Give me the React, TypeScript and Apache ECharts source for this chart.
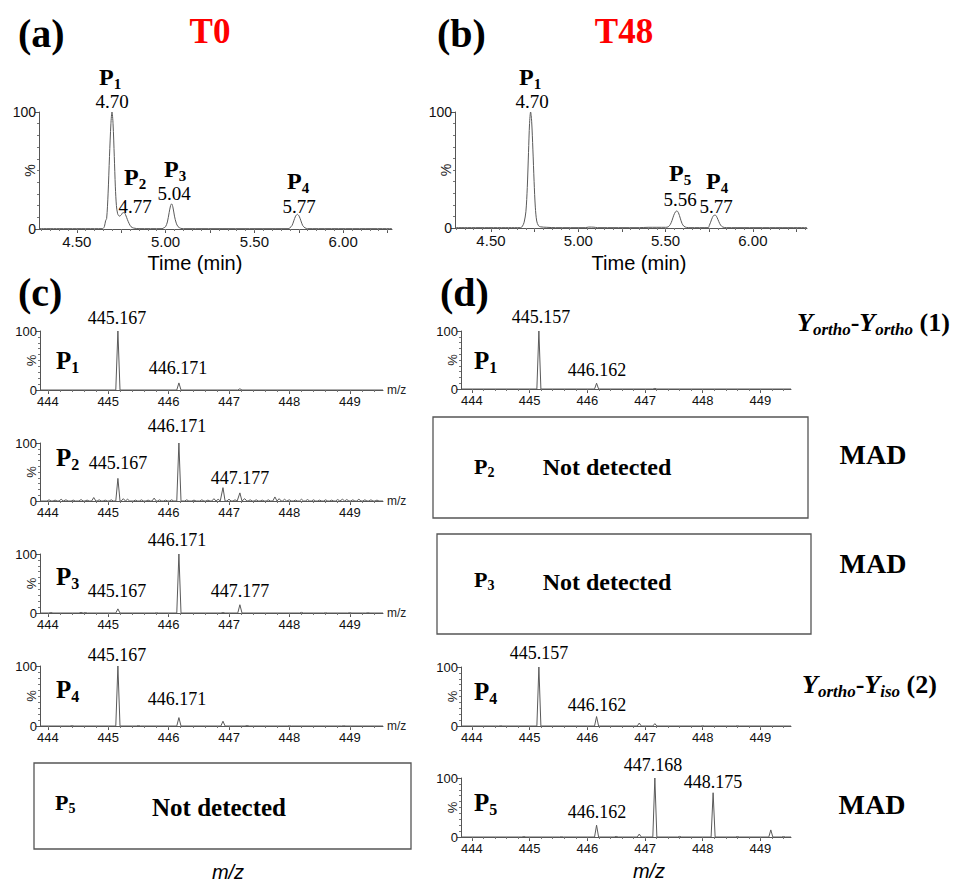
import React, { useEffect, useRef } from "react";
import * as echarts from "echarts";

const SERIF = "'Liberation Serif', 'Times New Roman', serif";
const SANS = "'Liberation Sans', Arial, sans-serif";

// ---- tick labels ----
const timeLabels = [4.5, 5.0, 5.5, 6.0];
const timeMajorTicks = [4.5, 4.75, 5.0, 5.25, 5.5, 5.75, 6.0, 6.25];
const mzLabels = [444, 445, 446, 447, 448, 449];

// ---- chromatograms [time (min), relative intensity %] ----
const traceT0: [number, number][] = [
  [4.287, 0.3], [4.4, 0.3], [4.5, 0.3], [4.6, 0.3], [4.645, 0.3], [4.655, 2], [4.662, 7], [4.668, 9],
  [4.676, 30], [4.684, 62], [4.692, 90], [4.698, 100], [4.704, 90], [4.711, 62], [4.717, 36], [4.723, 20],
  [4.73, 13], [4.74, 11], [4.75, 12], [4.76, 14], [4.767, 14], [4.775, 12], [4.785, 8], [4.795, 4.5],
  [4.805, 2], [4.82, 0.8], [4.85, 0.3], [4.98, 0.3], [4.99, 1], [5.0, 2], [5.01, 6], [5.02, 14],
  [5.028, 20], [5.034, 21.5], [5.042, 18], [5.05, 11], [5.06, 5], [5.07, 2], [5.085, 0.6], [5.1, 0.3],
  [5.69, 0.3], [5.7, 1], [5.712, 3], [5.722, 7], [5.732, 11], [5.742, 12.5], [5.752, 11], [5.762, 7],
  [5.772, 3], [5.785, 1], [5.8, 0.3], [6.275, 0.3],
];
const traceT48: [number, number][] = [
  [4.294, 0.3], [4.6, 0.3], [4.67, 0.3], [4.68, 1.5], [4.69, 5], [4.7, 14], [4.708, 35], [4.715, 65],
  [4.721, 90], [4.727, 100], [4.733, 92], [4.74, 68], [4.747, 40], [4.754, 18], [4.762, 6], [4.772, 2],
  [4.785, 1], [4.82, 0.6], [4.87, 0.3], [5.04, 0.3], [5.06, 0.8], [5.09, 0.7], [5.11, 0.3], [5.35, 0.3],
  [5.4, 0.6], [5.5, 0.6], [5.515, 1], [5.527, 3], [5.537, 6.5], [5.547, 11], [5.557, 14], [5.565, 14.7],
  [5.574, 13], [5.584, 8.5], [5.594, 4], [5.605, 1.5], [5.62, 0.5], [5.64, 0.3], [5.745, 0.3], [5.75, 2],
  [5.758, 5], [5.768, 9], [5.778, 11], [5.786, 11], [5.795, 9], [5.805, 5.5], [5.815, 2.5], [5.828, 0.8],
  [5.85, 0.3], [6.31, 0.3],
];

// ---- mass spectra peaks [m/z, relative intensity %] ----
const specT0P1: [number, number][] = [[445.16, 100], [446.17, 12], [447.18, 2]];
const specT0P2: [number, number][] = [
  [444.02, 2], [444.12, 1.5], [444.22, 3], [444.3, 2], [444.42, 1.5], [444.55, 2.5], [444.65, 1.5], [444.76, 6],
  [444.85, 2], [444.95, 1.5], [445.05, 2], [445.16, 39], [445.25, 4], [445.32, 3], [445.45, 1.5], [445.55, 2],
  [445.66, 1.5], [445.76, 5], [445.85, 2], [445.95, 1.5], [446.05, 2], [446.17, 100], [446.3, 2], [446.42, 1.5],
  [446.55, 2], [446.65, 1.5], [446.75, 4], [446.82, 3], [446.9, 23], [447.0, 3], [447.1, 2], [447.18, 14],
  [447.26, 4], [447.35, 2], [447.45, 2], [447.55, 1.5], [447.65, 2], [447.76, 7], [447.83, 4], [447.92, 3],
  [448.0, 2], [448.1, 1.5], [448.2, 3], [448.3, 2.5], [448.4, 2], [448.5, 1.5], [448.6, 2], [448.7, 1.5],
  [448.8, 2.5], [448.88, 3], [448.95, 2.5], [449.05, 2], [449.15, 3], [449.25, 2], [449.35, 2], [449.45, 1.5],
];
const specT0P3: [number, number][] = [
  [444.05, 0.8], [444.55, 1], [444.62, 0.8], [445.16, 7], [445.8, 0.5], [446.17, 100], [446.9, 0.8],
  [447.18, 14], [448.2, 1], [448.6, 0.5], [449.0, 0.6], [449.3, 0.5],
];
const specT0P4: [number, number][] = [
  [444.4, 0.5], [445.16, 100], [445.5, 0.8], [446.17, 14], [446.9, 8], [447.3, 0.8], [448.0, 0.5], [448.9, 0.5],
];
const specT48P1: [number, number][] = [[445.16, 100], [446.16, 10], [447.17, 1]];
const specT48P4: [number, number][] = [
  [444.5, 0.5], [445.16, 100], [446.16, 16], [446.9, 5], [447.17, 4], [448.0, 0.5], [448.6, 0.5],
];
const specT48P5: [number, number][] = [
  [444.9, 0.8], [445.55, 0.5], [446.16, 20], [446.5, 1], [446.9, 5], [447.17, 100], [447.6, 1],
  [448.18, 75], [448.6, 0.8], [449.18, 12], [449.4, 0.8],
];

// ---- layout ----
type G = { left: number; top: number; width: number; height: number; kind: "t" | "c" | "d" };
const grids: G[] = [
  { left: 39, top: 112, width: 353, height: 117, kind: "t" },
  { left: 455, top: 112, width: 352, height: 116, kind: "t" },
  { left: 40, top: 331, width: 343, height: 59, kind: "c" },
  { left: 40, top: 443, width: 343, height: 58, kind: "c" },
  { left: 40, top: 554, width: 343, height: 59, kind: "c" },
  { left: 40, top: 666, width: 343, height: 60, kind: "c" },
  { left: 461, top: 331, width: 330, height: 58, kind: "d" },
  { left: 461, top: 667, width: 330, height: 59, kind: "d" },
  { left: 461, top: 778, width: 330, height: 59, kind: "d" },
];
const xRanges: [number, number][] = [
  [4.287, 6.275], [4.294, 6.31],
  [443.87, 449.55], [443.87, 449.55], [443.87, 449.55], [443.87, 449.55],
  [443.81, 449.53], [443.81, 449.53], [443.81, 449.53],
];

function stickLine(peaks: [number, number][], lo: number, hi: number): [number, number][] {
  const hw = 0.035;
  const pts: [number, number][] = [[lo, 0]];
  peaks.slice().sort((a, b) => a[0] - b[0]).forEach(([m, h]) => {
    pts.push([m - hw, 0], [m, h], [m + hw, 0]);
  });
  pts.push([hi, 0]);
  return pts;
}

function steps(lo: number, hi: number, step: number): number[] {
  const out: number[] = [];
  const start = Math.ceil(lo / step - 1e-9);
  for (let k = start; k * step <= hi + 1e-9; k++) out.push(Math.round(k * step * 1000) / 1000);
  return out;
}

function pLabel(x: number, y: number, sub: string, size: number, subSize: number, lh: number, subLh: number) {
  return {
    type: "text", x, y, silent: true,
    style: {
      text: `{p|P}{s|${sub}}`,
      align: "left", verticalAlign: "middle", textAlign: "left", textVerticalAlign: "middle",
      rich: {
        p: { fontSize: size, fontWeight: "bold", fontFamily: SERIF, fill: "#000", color: "#000", lineHeight: lh },
        s: { fontSize: subSize, fontWeight: "bold", fontFamily: SERIF, fill: "#000", color: "#000", lineHeight: subLh, verticalAlign: "bottom" },
      },
    },
  };
}

function txt(x: number, y: number, text: string, size: number, opts: any = {}) {
  const align = opts.align || "center";
  return {
    type: "text", x, y, silent: true, rotation: opts.rotation || 0,
    style: {
      text, fontSize: size, fontFamily: opts.family || SERIF, fontWeight: opts.weight || "normal",
      fontStyle: opts.style || "normal", fill: opts.fill || "#000",
      align, verticalAlign: "middle", textAlign: align, textVerticalAlign: "middle",
    },
  };
}

function box(x: number, y: number, w: number, h: number) {
  return {
    type: "rect", silent: true, shape: { x, y, width: w, height: h },
    style: { fill: "none", stroke: "#555", lineWidth: 1.3 },
  };
}

function yRich(x: number, y: number, s1: string, s2: string, tail: string) {
  const base = { fontSize: 26, fontWeight: "bold", fontFamily: SERIF, fill: "#000", color: "#000", lineHeight: 32 };
  return {
    type: "text", x, y, silent: true,
    style: {
      text: `{yi|Y}{si|${s1}}{h|-}{yi|Y}{si|${s2}}{n|${tail}}`,
      align: "left", verticalAlign: "middle", textAlign: "left", textVerticalAlign: "middle",
      rich: {
        yi: { ...base, fontStyle: "italic" },
        h: { ...base },
        n: { ...base },
        si: { fontSize: 17, fontWeight: "bold", fontStyle: "italic", fontFamily: SERIF, fill: "#000", color: "#000", lineHeight: 12, verticalAlign: "bottom" },
      },
    },
  };
}

export default function App() {
  const ref = useRef<HTMLDivElement>(null);
  useEffect(() => {
    document.body.style.margin = "0";
    if (!ref.current) return;
    const chart = echarts.init(ref.current, undefined, { renderer: "svg" });

    const xAxis: any[] = [];
    const yAxis: any[] = [];
    const percentLabels: any[] = [];
    grids.forEach((g, gi) => {
      const [min, max] = xRanges[gi];
      const isT = g.kind === "t";
      const fs = isT ? 15 : 13;
      const labels = isT ? timeLabels : mzLabels;
      const majors = isT ? timeMajorTicks : mzLabels;
      const minors = isT ? steps(min, max, 0.05) : steps(min, max, 0.2);
      xAxis.push({
        type: "value", gridIndex: gi, min, max, position: "bottom",
        axisLine: { show: true, onZero: false, lineStyle: { color: "#555", width: 1 } },
        axisTick: { show: true, customValues: majors, length: 4, lineStyle: { color: "#555" } },
        axisLabel: {
          show: true, customValues: labels, fontSize: fs, color: "#111", fontFamily: SANS, margin: 5,
          hideOverlap: false,
          formatter: (v: number) => (isT ? v.toFixed(2) : String(v)),
        },
        splitLine: { show: false },
        name: g.kind === "c" ? "m/z" : "", nameLocation: "end", nameGap: 4, nameMoveOverlap: false,
        nameTextStyle: { fontSize: 12, color: "#222", fontFamily: SANS },
      });
      xAxis.push({
        type: "value", gridIndex: gi, min, max, position: "bottom",
        axisLine: { show: false, onZero: false },
        axisTick: { show: true, customValues: minors, length: 2, lineStyle: { color: "#777" } },
        axisLabel: { show: false }, splitLine: { show: false },
      });
      yAxis.push({
        type: "value", gridIndex: gi, min: 0, max: 100, interval: 100,
        axisLine: { show: true, lineStyle: { color: "#555", width: 1 } },
        axisTick: { show: true, length: 4, lineStyle: { color: "#555" } },
        minorTick: { show: true, splitNumber: 10, length: 2, lineStyle: { color: "#777" } },
        axisLabel: { fontSize: isT ? 14 : 13, color: "#111", fontFamily: SANS, margin: 3 },
        splitLine: { show: false }, minorSplitLine: { show: false },
      });
      percentLabels.push(
        txt(g.left - 9, g.top + g.height / 2, "%", isT ? 14 : 13, { family: SANS, fill: "#222", rotation: Math.PI / 2 })
      );
    });

    const seriesData: [number, number][][] = [
      traceT0, traceT48,
      stickLine(specT0P1, xRanges[2][0], xRanges[2][1]),
      stickLine(specT0P2, xRanges[3][0], xRanges[3][1]),
      stickLine(specT0P3, xRanges[4][0], xRanges[4][1]),
      stickLine(specT0P4, xRanges[5][0], xRanges[5][1]),
      stickLine(specT48P1, xRanges[6][0], xRanges[6][1]),
      stickLine(specT48P4, xRanges[7][0], xRanges[7][1]),
      stickLine(specT48P5, xRanges[8][0], xRanges[8][1]),
    ];
    const series = seriesData.map((data, gi) => ({
      type: "line", xAxisIndex: gi * 2, yAxisIndex: gi, data,
      showSymbol: false, symbol: "none", silent: true, clip: true,
      smooth: gi < 2 ? 0.3 : false,
      lineStyle: { color: "#5a5a5a", width: 1 },
    }));

    const chromP = (x: number, y: number, s: string) => pLabel(x, y, s, 24, 15, 28, 11);
    const specP = (x: number, y: number, s: string) => pLabel(x, y, s, 25, 16, 30, 15);
    const boxP = (x: number, y: number, s: string) => pLabel(x, y, s, 22, 14, 26, 12);

    const graphic: any[] = [
      ...percentLabels,
      // panel headers
      txt(18, 33, "(a)", 40, { weight: "bold", align: "left" }),
      txt(210, 31, "T0", 35, { weight: "bold", fill: "#ff0000" }),
      txt(437, 33, "(b)", 40, { weight: "bold", align: "left" }),
      txt(624, 31, "T48", 35, { weight: "bold", fill: "#ff0000" }),
      txt(18, 292, "(c)", 40, { weight: "bold", align: "left" }),
      txt(440, 292, "(d)", 40, { weight: "bold", align: "left" }),
      txt(195, 263, "Time (min)", 20, { family: SANS }),
      txt(639, 263, "Time (min)", 20, { family: SANS }),
      // (a) annotations
      chromP(99, 77, "1"), txt(112, 101, "4.70", 19),
      chromP(124, 177, "2"), txt(135, 206, "4.77", 19),
      chromP(164, 169, "3"), txt(174, 193, "5.04", 19),
      chromP(287, 181, "4"), txt(299, 206, "5.77", 19),
      // (b) annotations
      chromP(519, 77, "1"), txt(532, 101, "4.70", 19),
      chromP(669, 173, "5"), txt(680, 199, "5.56", 19),
      chromP(706, 181, "4"), txt(716, 206, "5.77", 19),
      // (c) spectra
      specP(56, 360, "1"), txt(117, 318, "445.167", 18), txt(178, 368, "446.171", 18),
      specP(56, 457, "2"), txt(177, 426, "446.171", 18), txt(118, 463, "445.167", 18), txt(240, 478, "447.177", 18),
      specP(56, 576, "3"), txt(177, 540, "446.171", 18), txt(117, 591, "445.167", 18), txt(240, 591, "447.177", 18),
      specP(56, 689, "4"), txt(117, 655, "445.167", 18), txt(177, 699, "446.171", 18),
      box(34, 763, 377, 86), boxP(55, 802, "5"), txt(219, 807, "Not detected", 25, { weight: "bold" }),
      txt(228, 872, "m/z", 20, { family: SANS, style: "italic" }),
      // (d) spectra
      specP(474, 360, "1"), txt(541, 317, "445.157", 18), txt(597, 370, "446.162", 18),
      yRich(797, 322, "ortho", "ortho", " (1)"),
      box(433, 417, 375, 101), boxP(474, 466, "2"), txt(607, 467, "Not detected", 24, { weight: "bold" }),
      txt(873, 454, "MAD", 28, { weight: "bold" }),
      box(437, 534, 374, 100), boxP(474, 579, "3"), txt(607, 582, "Not detected", 24, { weight: "bold" }),
      txt(873, 563, "MAD", 28, { weight: "bold" }),
      specP(474, 691, "4"), txt(539, 653, "445.157", 18), txt(597, 705, "446.162", 18),
      yRich(802, 684, "ortho", "iso", " (2)"),
      specP(474, 802, "5"), txt(653, 765, "447.168", 18), txt(713, 782, "448.175", 18), txt(597, 812, "446.162", 18),
      txt(872, 804, "MAD", 28, { weight: "bold" }),
      txt(649, 871, "m/z", 20, { family: SANS, style: "italic" }),
    ];

    chart.setOption({
      animation: false,
      backgroundColor: "#ffffff",
      grid: grids.map((g) => ({
        left: g.left, top: g.top, width: g.width, height: g.height,
        containLabel: false, outerBoundsMode: "none",
      })),
      xAxis, yAxis, series, graphic,
    });
    return () => chart.dispose();
  }, []);
  return <div ref={ref} style={{ width: 973, height: 885, overflow: "hidden" }} />;
}
